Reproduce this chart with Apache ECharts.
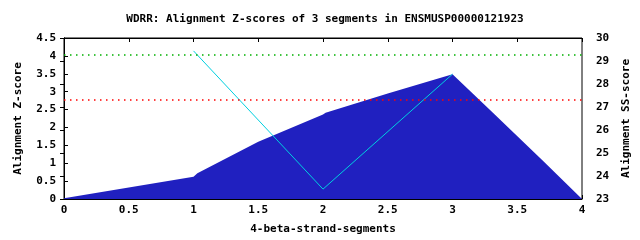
<!DOCTYPE html>
<html>
<head>
<meta charset="utf-8">
<script src="https://cdn.jsdelivr.net/npm/echarts@6/dist/echarts.min.js"></script>
<style>
html,body{margin:0;padding:0;background:#fff;}
#chart{width:640px;height:240px;}
</style>
</head>
<body>
<div id="chart"></div>
<script>
var titleText = 'WDRR: Alignment Z-scores of 3 segments in ENSMUSP00000121923';
var xName = '4-beta-strand-segments';
var yLeftName = 'Alignment Z-score';
var yRightName = 'Alignment SS-score';
// Z-score profile (area), x position and value
var zX = [0, 1, 1.03, 1.5, 2, 2.02, 2.5, 3, 3.3, 3.7, 4];
var zY = [0.02, 0.62, 0.72, 1.6, 2.36, 2.41, 2.95, 3.49, 2.45, 1.06, 0];
// SS-score (cyan line)
var ssX = [1, 2, 3];
var ssY = [29.44, 23.43, 28.43];
// threshold lines on Z-score axis
var greenThreshold = 4.03;
var redThreshold = 2.78;

var font = 'DejaVu Sans Mono';
var areaData = zX.map(function(x, i){ return [x, zY[i]]; });
var ssData = ssX.map(function(x, i){ return [x, ssY[i]]; });

function threshold(val, color) {
  return {
    type: 'line', xAxisIndex: 0, yAxisIndex: 0, data: [],
    symbol: 'none', z: 2,
    markLine: {
      silent: true, symbol: 'none', label: {show: false}, animation: false,
      lineStyle: {color: color, type: [1.5, 4.5], width: 1.5, opacity: 1},
      emphasis: {disabled: true},
      data: [{yAxis: val}]
    }
  };
}

var chart = echarts.init(document.getElementById('chart'), null, {renderer: 'canvas'});
var lbl = {color: '#000', fontFamily: font, fontWeight: 'bold', fontSize: 11};
chart.setOption({
  animation: false,
  backgroundColor: '#fff',
  title: {
    text: titleText, left: 320, textAlign: 'center', top: 9,
    textStyle: {color: '#000', fontFamily: font, fontWeight: 'bold', fontSize: 11}
  },
  grid: {left: 64, right: 58, top: 38, bottom: 40, show: true, borderColor: '#000', borderWidth: 1, backgroundColor: 'transparent'},
  xAxis: [{
    type: 'value', min: 0, max: 4, interval: 0.5, position: 'bottom',
    name: xName, nameLocation: 'middle', nameGap: 25,
    nameTextStyle: lbl,
    axisLine: {show: true, lineStyle: {color: '#000'}},
    axisTick: {show: true, inside: true, length: 4, lineStyle: {color: '#000'}},
    axisLabel: Object.assign({margin: 6}, lbl),
    splitLine: {show: false}
  }, {
    type: 'value', min: 0, max: 4, interval: 0.5, position: 'top',
    axisLine: {show: true, lineStyle: {color: '#000'}},
    axisTick: {show: true, inside: true, length: 4, lineStyle: {color: '#000'}},
    axisLabel: {show: false},
    splitLine: {show: false}
  }],
  yAxis: [{
    type: 'value', min: 0, max: 4.5, interval: 0.5, position: 'left',
    name: yLeftName, nameLocation: 'middle', nameGap: 40, nameRotate: 90,
    nameTextStyle: lbl,
    axisLine: {show: true, lineStyle: {color: '#000'}},
    axisTick: {show: true, inside: true, length: 4, lineStyle: {color: '#000'}},
    axisLabel: Object.assign({margin: 8}, lbl),
    splitLine: {show: false}
  }, {
    type: 'value', min: 23, max: 30, interval: 1, position: 'right',
    name: yRightName, nameLocation: 'middle', nameGap: 36, nameRotate: 90,
    nameTextStyle: lbl,
    axisLine: {show: true, lineStyle: {color: '#000'}},
    axisTick: {show: true, inside: true, length: 4, lineStyle: {color: '#000'}},
    axisLabel: Object.assign({margin: 14}, lbl),
    splitLine: {show: false}
  }],
  series: [{
    type: 'line', xAxisIndex: 0, yAxisIndex: 0, data: areaData,
    symbol: 'none', lineStyle: {width: 0, color: '#2020c0'},
    areaStyle: {color: '#2020c0', opacity: 1},
    z: 1
  },
  threshold(greenThreshold, '#00b000'),
  threshold(redThreshold, '#ff0000'),
  {
    type: 'line', xAxisIndex: 0, yAxisIndex: 1, data: ssData,
    symbol: 'none', lineStyle: {width: 1, color: '#00d0e0'},
    z: 3
  }]
});
</script>
</body>
</html>
